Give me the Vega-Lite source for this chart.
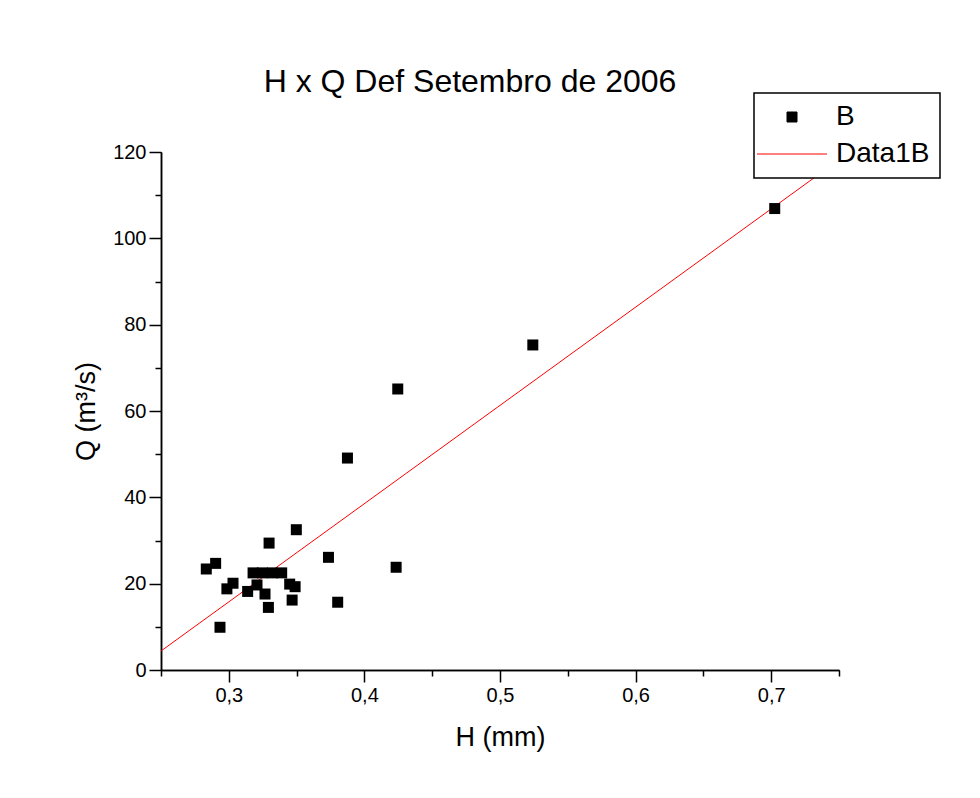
{
  "$schema": "https://vega.github.io/schema/vega-lite/v6.json",
  "width": 678,
  "height": 518,
  "autosize": {"type": "none"},
  "padding": {"left": 161, "top": 152, "right": 141, "bottom": 128},
  "background": "white",
  "title": {
    "text": "H x Q Def Setembro de 2006",
    "font": "Liberation Sans",
    "fontSize": 32,
    "fontWeight": "normal",
    "color": "black",
    "anchor": "middle",
    "dx": -30,
    "offset": 0,
    "dy": 7
  },
  "config": {
    "view": {"stroke": null},
    "axis": {
      "domainColor": "black",
      "domainWidth": 1.5,
      "tickColor": "black",
      "tickWidth": 1.5,
      "grid": false,
      "labelFont": "Liberation Sans",
      "labelFontSize": 20,
      "labelColor": "black",
      "titleFont": "Liberation Sans",
      "titleFontSize": 27,
      "titleFontWeight": "normal",
      "titleColor": "black",
      "labelFlush": false,
      "labelOverlap": false
    }
  },
  "datasets": {
    "points": [
      {"H": 0.7026, "Q": 106.9, "series": "B"},
      {"H": 0.5242, "Q": 75.3, "series": "B"},
      {"H": 0.4246, "Q": 65.1, "series": "B"},
      {"H": 0.3875, "Q": 49.1, "series": "B"},
      {"H": 0.3498, "Q": 32.5, "series": "B"},
      {"H": 0.3297, "Q": 29.4, "series": "B"},
      {"H": 0.3735, "Q": 26.1, "series": "B"},
      {"H": 0.4234, "Q": 23.8, "series": "B"},
      {"H": 0.2903, "Q": 24.7, "series": "B"},
      {"H": 0.2834, "Q": 23.4, "series": "B"},
      {"H": 0.3803, "Q": 15.7, "series": "B"},
      {"H": 0.3467, "Q": 16.2, "series": "B"},
      {"H": 0.3292, "Q": 14.5, "series": "B"},
      {"H": 0.2935, "Q": 9.9, "series": "B"},
      {"H": 0.3179, "Q": 22.5, "series": "B"},
      {"H": 0.3247, "Q": 22.5, "series": "B"},
      {"H": 0.3321, "Q": 22.5, "series": "B"},
      {"H": 0.339, "Q": 22.5, "series": "B"},
      {"H": 0.3031, "Q": 20.1, "series": "B"},
      {"H": 0.2986, "Q": 18.8, "series": "B"},
      {"H": 0.3139, "Q": 18.2, "series": "B"},
      {"H": 0.3208, "Q": 19.7, "series": "B"},
      {"H": 0.3267, "Q": 17.6, "series": "B"},
      {"H": 0.3449, "Q": 19.9, "series": "B"},
      {"H": 0.3489, "Q": 19.3, "series": "B"}
    ],
    "fit": [
      {"H": 0.25, "Q": 4.4, "series": "Data1B"},
      {"H": 0.75, "Q": 118.2, "series": "Data1B"}
    ]
  },
  "layer": [
    {
      "data": {"name": "fit"},
      "mark": {"type": "line", "strokeWidth": 1, "clip": true},
      "encoding": {
        "x": {
          "field": "H", "type": "quantitative",
          "scale": {"domain": [0.25, 0.75], "nice": false, "zero": false},
          "axis": {"orient": "bottom", "values": [0.25, 0.35, 0.45, 0.55, 0.65, 0.75], "labels": false, "title": null, "tickSize": 6}
        },
        "y": {
          "field": "Q", "type": "quantitative",
          "scale": {"domain": [0, 120], "nice": false},
          "axis": {"orient": "left", "values": [10, 30, 50, 70, 90, 110], "labels": false, "title": null, "tickSize": 6}
        },
        "color": {
          "field": "series", "type": "nominal",
          "scale": {"domain": ["B", "Data1B"], "range": ["black", "#ff0000"]},
          "legend": {
            "title": null,
            "orient": "none",
            "legendX": 593,
            "legendY": -59,
            "strokeColor": "black",
            "fillColor": "white",
            "padding": 10,
            "symbolSize": 100,
            "labelFont": "Liberation Sans",
            "labelFontSize": 28,
            "labelColor": "black",
            "labelOffset": 9,
            "rowPadding": 9,
            "encode": {
              "legend": {"update": {"strokeWidth": {"value": 1.5}}},
              "symbols": {
                "update": {
                  "x": {"value": 28},
                  "y": {"value": 14},
                  "shape": {"signal": "datum.value === 'B' ? 'square' : 'M-1,0H1'"},
                  "size": {"signal": "datum.value === 'B' ? 100 : 4900"},
                  "fill": {"signal": "datum.value === 'B' ? 'black' : 'transparent'"},
                  "stroke": {"signal": "datum.value === 'B' ? 'black' : '#ff0000'"},
                  "strokeWidth": {"value": 1},
                  "opacity": {"value": 1}
                }
              },
              "labels": {
                "update": {"x": {"value": 72}, "y": {"value": 14}, "baseline": {"value": "middle"}}
              }
            }
          }
        }
      }
    },
    {
      "data": {"name": "points"},
      "mark": {"type": "square", "size": 121, "opacity": 1},
      "encoding": {
        "x": {
          "field": "H", "type": "quantitative",
          "axis": {
            "orient": "bottom",
            "values": [0.3, 0.4, 0.5, 0.6, 0.7],
            "labelExpr": "replace(format(datum.value, '.1f'), '.', ',')",
            "title": "H (mm)",
            "tickSize": 12,
            "labelPadding": 3,
            "titlePadding": 19
          }
        },
        "y": {
          "field": "Q", "type": "quantitative",
          "axis": {
            "orient": "left",
            "values": [0, 20, 40, 60, 80, 100, 120],
            "title": "Q (m³/s)",
            "tickSize": 12,
            "labelPadding": 3,
            "titlePadding": 12
          }
        },
        "color": {"field": "series", "type": "nominal"}
      }
    }
  ],
  "resolve": {"axis": {"x": "independent", "y": "independent"}}
}
